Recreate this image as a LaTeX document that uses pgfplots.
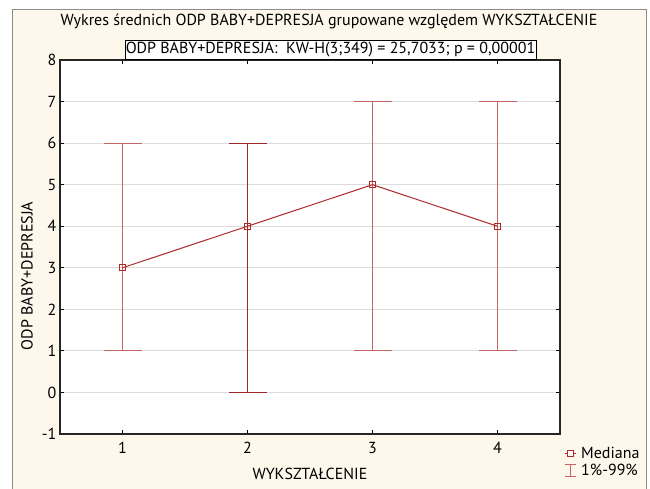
\documentclass[border=0pt]{standalone}
\usepackage{fontspec}
\setmainfont{PT Sans}
\usepackage{pgfplots}
\pgfplotsset{compat=1.18}

\definecolor{panel}{HTML}{FDF8EB}
\definecolor{panelborder}{HTML}{8C8C8C}
\definecolor{gridgray}{HTML}{DCDCDC}
\definecolor{medline}{HTML}{B02A2A}
\definecolor{barlight}{HTML}{C46464}
\definecolor{bardark}{HTML}{A22626}

\begin{document}
\begin{tikzpicture}[font=\fontsize{16}{19}\selectfont]
\path[use as bounding box] (0pt,0pt) rectangle (650pt,488pt);
\fill[white] (0pt,0pt) rectangle (650pt,488pt);
\draw[panelborder, fill=panel, line width=1pt] (12pt,-3pt) rectangle (646pt,478pt);

\begin{axis}[
  at={(60pt,54pt)}, anchor=south west,
  scale only axis,
  width=500pt, height=374pt,
  xmin=0.5, xmax=4.5,
  ymin=-1, ymax=8,
  xtick={1,2,3,4},
  ytick={-1,0,...,8},
  tick pos=both,
  tick align=inside,
  major tick length=4pt,
  every tick/.style={black, line width=0.8pt},
  axis line style={line width=1.2pt, black!85},
  axis background/.style={fill=white},
  ymajorgrids,
  grid style={gridgray, line width=1pt},
  /pgf/number format/assume math mode=true,
  ticklabel style={font=\fontsize{16}{19}\selectfont},
  xticklabel style={yshift=-5pt},
  xlabel={WYKSZTAŁCENIE},
  ylabel={ODP BABY+DEPRESJA},
  xlabel style={at={(axis description cs:0.5,-0.108)}, anchor=center},
  ylabel style={at={(axis description cs:-0.066,0.4225)}, anchor=center},
  legend style={at={(axis description cs:1,0)}, anchor=north west,
    xshift=4pt, yshift=-11pt, draw=none, fill=none, inner sep=0pt,
    row sep=0pt, font=\fontsize{16}{19}\selectfont,
    cells={anchor=west},
    /tikz/every odd column/.append style={column sep=3pt}},
]
% 1%-99% ranges
\addplot[draw=none, mark=none, forget plot,
  error bars/.cd, y dir=both, y explicit,
  error bar style={barlight, line width=1.2pt},
  error mark options={rotate=90, mark size=19pt, barlight, line width=1.2pt}]
  coordinates {
  (1,3) += (0,3) -= (0,2)
  (3,5) += (0,2) -= (0,4)
  (4,4) += (0,3) -= (0,3)
};
\addplot[draw=none, mark=none, forget plot,
  error bars/.cd, y dir=both, y explicit,
  error bar style={bardark, line width=1.2pt},
  error mark options={rotate=90, mark size=19pt, bardark, line width=1.2pt}]
  coordinates {
  (2,4) += (0,2) -= (0,4)
};
% medians
\addplot[medline, line width=1pt, mark=square, mark size=3pt,
  mark options={fill=white, solid, line width=0.9pt}, forget plot]
  coordinates {(1,3) (2,4) (3,5) (4,4)};

\addlegendimage{legend image code/.code={
  \draw[medline, line width=0.9pt] (0pt,0pt) -- (11pt,0pt);
  \draw[medline, line width=0.9pt, fill=white] (2.5pt,-3pt) rectangle (8.5pt,3pt);}}
\addlegendentry{Mediana}
\addlegendimage{legend image code/.code={
  \draw[barlight, line width=1pt] (5.5pt,-6pt) -- (5.5pt,6pt);
  \draw[barlight, line width=1pt] (0pt,6pt) -- (11pt,6pt);
  \draw[barlight, line width=1pt] (0pt,-6pt) -- (11pt,-6pt);}}
\addlegendentry{1\%-99\%}
\end{axis}

\node at (329pt,467pt) {Wykres średnich ODP BABY+DEPRESJA grupowane względem WYKSZTAŁCENIE};
\node[draw=black, line width=0.8pt, fill=white, minimum width=411pt,
  minimum height=19pt, inner sep=0pt] at (330.5pt,438.5pt)
  {ODP BABY+DEPRESJA:\ \ KW-H(3;349) = 25,7033; p = 0,00001};
\end{tikzpicture}
\end{document}
